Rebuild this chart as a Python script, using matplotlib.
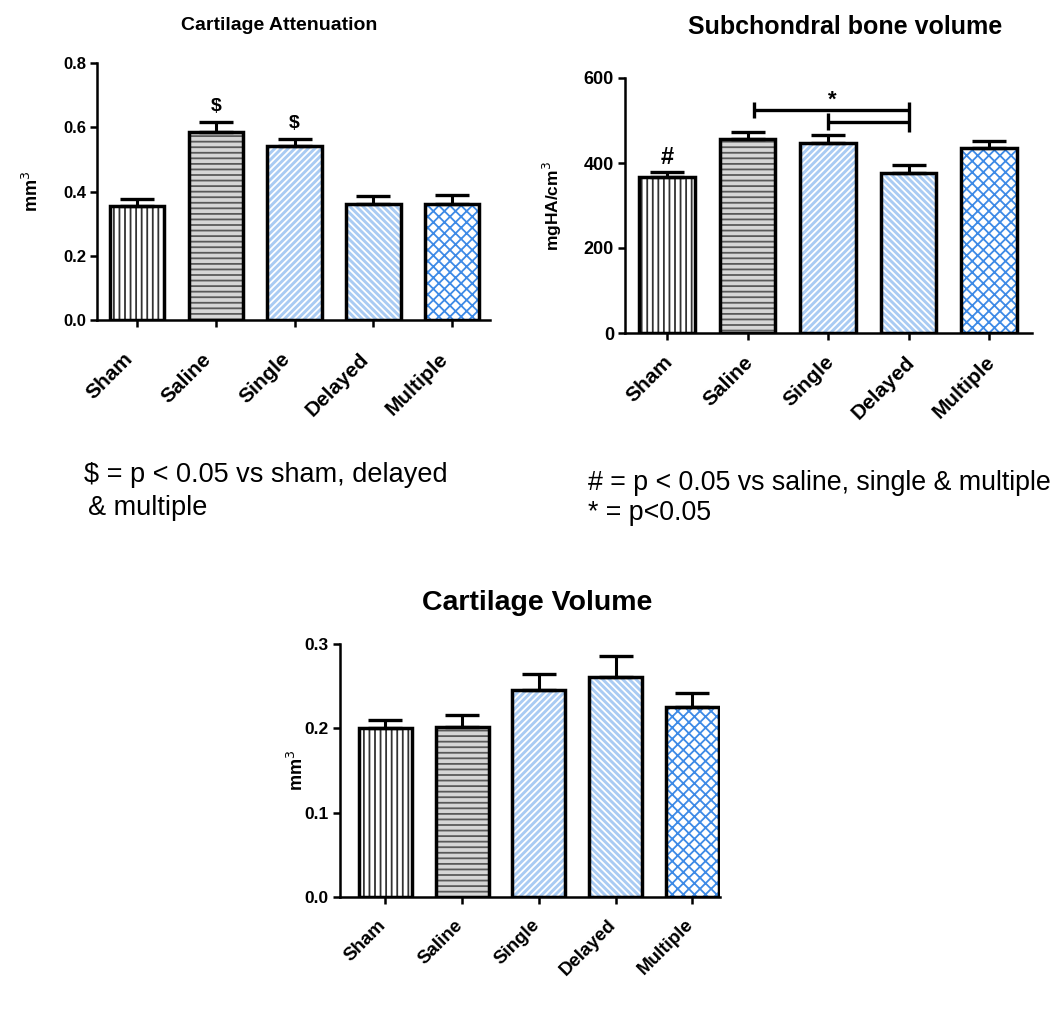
import matplotlib
matplotlib.use("Agg")
import matplotlib.pyplot as plt
from matplotlib.transforms import ScaledTranslation

plt.rcParams["font.family"] = ["Liberation Sans", "DejaVu Sans"]
plt.rcParams["hatch.linewidth"] = 1.3

groups = ["Sham", "Saline", "Single", "Delayed", "Multiple"]

# Cartilage attenuation (mm^3)
att_mean = [0.355, 0.586, 0.542, 0.361, 0.361]
att_err = [0.022, 0.031, 0.022, 0.025, 0.029]

# Subchondral bone volume (mgHA/cm^3)
bone_mean = [367, 456, 447, 376, 435]
bone_err = [12, 17, 19, 19, 17]

# Cartilage volume (mm^3)
vol_mean = [0.200, 0.202, 0.245, 0.261, 0.225]
vol_err = [0.010, 0.014, 0.019, 0.025, 0.017]

# per group: face colour, hatch colour, hatch
STYLES = [
    ("white", "#333333", "|||"),
    ("#d6d6d6", "#5a5a5a", "---"),
    ("#a9cbf3", "white", "/////"),
    ("#a9cbf3", "white", "\\\\\\\\\\"),
    ("white", "#3d8ae6", "xxx"),
]

W, H = 1057, 1034
fig = plt.figure(figsize=(W / 100, H / 100), dpi=100)


def px_axes(x0, x1, y_top, y_bot):
    return fig.add_axes([x0 / W, 1 - y_bot / H, (x1 - x0) / W, (y_bot - y_top) / H])


def draw_bars(ax, means, errs, capsize):
    xs = range(len(means))
    for i, (m, st) in enumerate(zip(means, STYLES)):
        face, hc, hatch = st
        ax.bar(i, m, width=0.69, color=face, edgecolor=hc, hatch=hatch, linewidth=0, zorder=2)
    ax.bar(xs, means, width=0.69, fill=False, edgecolor="black", linewidth=2.5, zorder=3)
    ax.errorbar(xs, means, yerr=[[0] * len(errs), errs], fmt="none", ecolor="black",
                elinewidth=2.2, capsize=capsize, capthick=2.4, zorder=4)


def style_axes(ax, ticks, ticklabels, tick_fs, xt_fs, dx=0, dy=0):
    for s in ["top", "right"]:
        ax.spines[s].set_visible(False)
    for s in ["left", "bottom"]:
        ax.spines[s].set_linewidth(1.8)
    ax.set_yticks(ticks)
    ax.set_yticklabels(ticklabels, fontsize=tick_fs, fontweight="bold")
    ax.set_ylim(ticks[0], ticks[-1])
    ax.set_xticks(range(len(groups)))
    ax.set_xticklabels(groups, rotation=45, ha="right", rotation_mode="anchor",
                       fontsize=xt_fs, fontweight="bold")
    ax.tick_params(width=1.8, length=5, direction="out", pad=3)
    ax.tick_params(axis="x", pad=9)
    # nudge the rotated labels (pixels)
    off = ScaledTranslation(dx / 100, -dy / 100, fig.dpi_scale_trans)
    for lab in ax.get_xticklabels():
        lab.set_transform(lab.get_transform() + off)


# --- Cartilage Attenuation ---
ax1 = px_axes(97, 490, 63, 320)
draw_bars(ax1, att_mean, att_err, 12)
style_axes(ax1, [0.0, 0.2, 0.4, 0.6, 0.8], ["0.0", "0.2", "0.4", "0.6", "0.8"], 12, 15, -14, 10)
ax1.set_xlim(-0.508, 4.48)
ax1.set_ylabel("mm$^3$", fontsize=13, fontweight="bold")
ax1.yaxis.set_label_coords(-0.14, 0.5)
for i in [1, 2]:
    ax1.text(i, att_mean[i] + att_err[i] + 0.02, "$", ha="center", va="bottom",
             fontsize=14, fontweight="bold")
fig.text(279 / W, 1 - 25 / H, "Cartilage Attenuation", ha="center", va="center",
         fontsize=14, fontweight="bold")
fig.text(84 / W, 1 - 475 / H, "$ = p < 0.05 vs sham, delayed", ha="left", va="center",
         fontsize=19.5)
fig.text(88 / W, 1 - 508 / H, "& multiple", ha="left", va="center", fontsize=19.5)

# --- Subchondral bone volume ---
ax2 = px_axes(625, 1032, 78, 333)
draw_bars(ax2, bone_mean, bone_err, 12)
style_axes(ax2, [0, 200, 400, 600], ["0", "200", "400", "600"], 13, 15, -4, 0)
ax2.set_xlim(-0.52, 4.53)
ax2.set_ylabel("mgHA/cm$^3$", fontsize=12.5, fontweight="bold")
ax2.yaxis.set_label_coords(-0.15, 0.5)
ax2.text(0, bone_mean[0] + bone_err[0] + 8, "#", ha="center", va="bottom",
         fontsize=17, fontweight="bold")
# significance brackets
kw = dict(color="black", lw=2.4, solid_capstyle="butt", clip_on=False)
ax2.plot([1.08, 3], [525, 525], **kw)
ax2.plot([1.08, 1.08], [506, 543], **kw)
ax2.plot([3, 3], [473, 543], **kw)
ax2.plot([2, 3], [497, 497], **kw)
ax2.plot([2, 2], [478, 518], **kw)
ax2.text(2.05, 522, "*", ha="center", va="bottom", fontsize=16, fontweight="bold")
fig.text(845 / W, 1 - 27 / H, "Subchondral bone volume", ha="center", va="center",
         fontsize=18, fontweight="bold")
fig.text(588 / W, 1 - 483 / H, "# = p < 0.05 vs saline, single & multiple", ha="left",
         va="center", fontsize=19.3)
fig.text(588 / W, 1 - 513 / H, "* = p<0.05", ha="left", va="center", fontsize=19.3)

# --- Cartilage Volume ---
ax3 = px_axes(340, 720, 644, 897)
draw_bars(ax3, vol_mean, vol_err, 12)
style_axes(ax3, [0.0, 0.1, 0.2, 0.3], ["0.0", "0.1", "0.2", "0.3"], 12.5, 13.5, -8, 0)
ax3.set_xlim(-0.59, 4.36)
ax3.set_ylabel("mm$^3$", fontsize=13, fontweight="bold")
ax3.yaxis.set_label_coords(-0.087, 0.5)
fig.text(537 / W, 1 - 603 / H, "Cartilage Volume", ha="center", va="center",
         fontsize=20.5, fontweight="bold")

fig.savefig("out.png", dpi=100, facecolor="white")
